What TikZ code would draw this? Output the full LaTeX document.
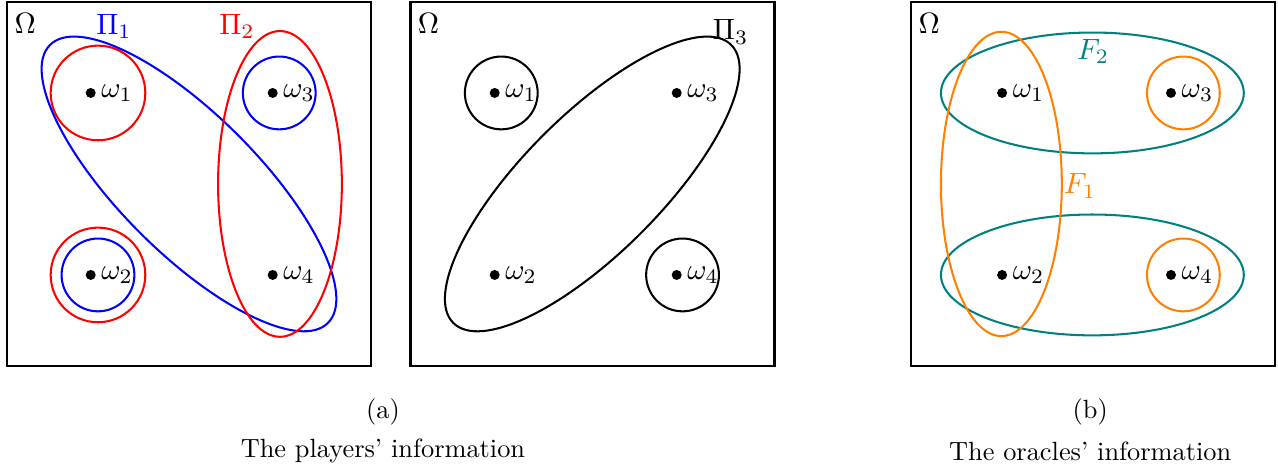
\documentclass[tikz,border=0pt]{standalone}
\usepackage{amsmath}
\usepackage{amssymb}
\usepackage{xcolor}
\usepackage{tikz}

\tikzset{
  every node/.style={scale=1.15},
  frame/.style={line width=1pt},
  part/.style={line width=0.8pt},
  pt/.style={circle, fill=black, inner sep=0pt, minimum size=3.4pt},
  caption/.style={scale=1.03/1.15},
}

\begin{document}
\begin{tikzpicture}
\useasboundingbox (-0.096,-1.43) rectangle (17.46,5.027);

% (a) players 1 and 2
\draw[frame] (0,0) rectangle (5,5);
\node (om1) at (0.25,4.71) {$\Omega$};
\foreach \n/\x/\y in {1/1.15/3.75, 2/1.15/1.25, 3/3.65/3.75, 4/3.65/1.25}
    \node[pt, label={[label distance=-1.8pt]right:$\omega_\n$}] (a\n) at (\x,\y) {};
\draw[part, red] (1.25,3.75) circle (0.65);
\draw[part, red] (1.25,1.25) circle (0.65);
\draw[part, blue] (1.25,1.25) circle (0.5);
\draw[part, blue] (3.74,3.75) circle (0.5);
\draw[part, blue, rotate around={-45:(2.5,2.5)}] (2.5,2.5) ellipse (2.7 and 0.95);
\draw[part, red] (3.75,2.5) ellipse (0.85 and 2.1);
\node[blue] (pi1) at (1.47,4.66) {$\Pi_1$};
\node[red] (pi2) at (3.16,4.66) {$\Pi_2$};

% (a) player 3
\begin{scope}[xshift=5.54cm]
\draw[frame] (0,0) rectangle (5,5);
\node (om2) at (0.25,4.71) {$\Omega$};
\foreach \n/\x/\y in {1/1.16/3.75, 2/1.16/1.25, 3/3.66/3.75, 4/3.66/1.25}
    \node[pt, label={[label distance=-1.8pt]right:$\omega_\n$}] (b\n) at (\x,\y) {};
\draw[part] (1.25,3.75) circle (0.5);
\draw[part] (3.74,1.25) circle (0.5);
\draw[part, rotate around={45:(2.5,2.5)}] (2.5,2.5) ellipse (2.7 and 0.95);
\node (pi3) at (4.40,4.59) {$\Pi_3$};
\end{scope}

% (b) oracles
\begin{scope}[xshift=12.42cm]
\draw[frame] (0,0) rectangle (5,5);
\node (om3) at (0.25,4.71) {$\Omega$};
\foreach \n/\x/\y in {1/1.25/3.75, 2/1.25/1.25, 3/3.57/3.75, 4/3.57/1.25}
    \node[pt, label={[label distance=-1.8pt]right:$\omega_\n$}] (c\n) at (\x,\y) {};
\draw[part, orange] (3.74,3.75) circle (0.5);
\draw[part, orange] (3.74,1.25) circle (0.5);
\draw[part, teal] (2.49,3.75) ellipse (2.08 and 0.83);
\draw[part, teal] (2.49,1.25) ellipse (2.08 and 0.83);
\draw[part, orange] (1.24,2.5) ellipse (0.83 and 2.09);
\node[teal] (f2) at (2.50,4.32) {$F_2$};
\node[orange] (f1) at (2.32,2.47) {$F_1$};
\end{scope}

\node[caption] (capa) at (5.165,-0.63) {(a)};
\node[caption] (txta) at (5.165,-1.17) {The players' information};
\node[caption] (capb) at (14.88,-0.63) {(b)};
\node[caption] (txtb) at (14.88,-1.17) {The oracles' information};
\end{tikzpicture}
\end{document}
